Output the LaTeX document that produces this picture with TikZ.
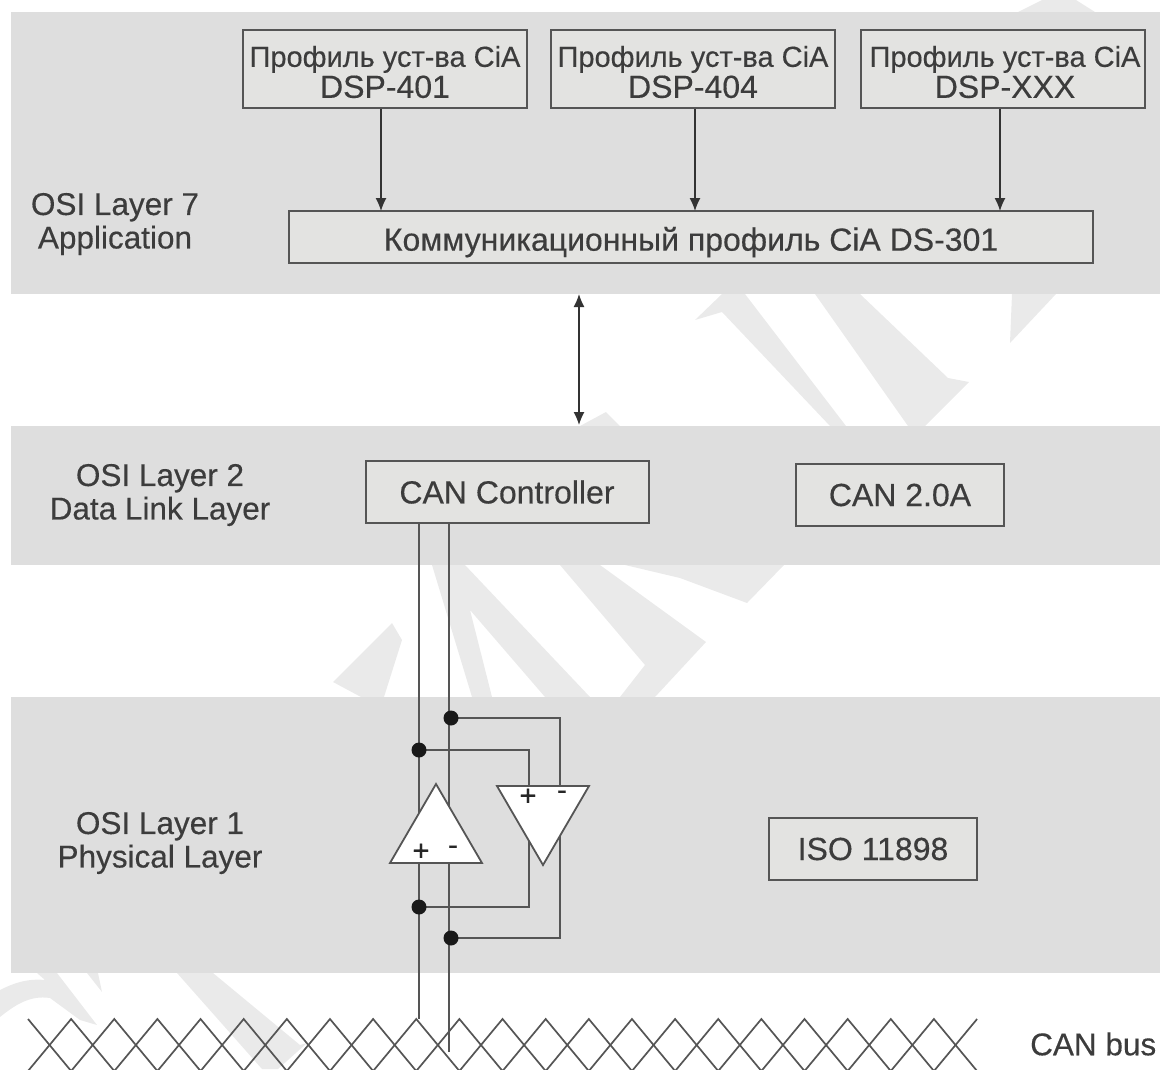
\documentclass[tikz,border=0pt]{standalone}
\usepackage{fontspec}
\setmainfont{Liberation Sans}[FakeBold=0.35]
\usetikzlibrary{arrows.meta}
\definecolor{band}{HTML}{DEDEDE}
\definecolor{boxfill}{HTML}{E3E3E1}
\definecolor{ink}{HTML}{555555}
\definecolor{txt}{HTML}{3C3C3C}
\definecolor{wm}{HTML}{EAEAEA}
\tikzset{
  x=1pt,y=-1pt,
  bandrect/.style={fill=band,draw=none},
  wmark/.style={fill=wm,draw=none},
  wire/.style={draw=ink,line width=2pt},
  buswire/.style={draw=ink,line width=1.7pt,line join=miter},
  boxn/.style={draw=ink,fill=boxfill,line width=2pt,inner sep=0pt,align=center,text=txt},
  lab/.style={align=center,text=txt,font=\fontsize{31.5}{33.5}\selectfont,inner sep=0pt},
  tip/.tip={Latex[length=13pt,width=11pt]},
  arrowline/.style={draw=black!80,line width=1.3pt,-tip},
  dblarrow/.style={draw=black!80,line width=1.3pt,tip-tip},
  dot/.style={circle,fill=black!90,draw=none,minimum size=15pt,inner sep=0pt},
  amp/.style={draw=ink,line width=1.8pt,fill=white,line join=miter},
  sign/.style={inner sep=0pt,text=black!85,font=\fontsize{29}{29}\selectfont}
}
\begin{document}
\begin{tikzpicture}
\useasboundingbox (0,0) rectangle (1160,1069);
% watermark on the white parts
\fill[wmark] (695,320) -- (722,294) -- (745,294) -- (846,426) -- (830,426) -- (722,312) -- cycle;
\fill[wmark] (815,294) -- (860,294) -- (948,378) -- (969,382) -- (925,426) -- (908,426) -- cycle;
\fill[wmark] (1012,294) -- (1056,294) -- (1010,343) -- cycle;
\fill[wmark] (1042,0) -- (1076,0) -- (1095,12) -- (1018,12) -- cycle;
\fill[wmark] (580,426) -- (606,412) -- (620,426) -- cycle;
\fill[wmark] (333,682) -- (392,623) -- (402,640) -- (384,697) -- (361,697) -- cycle;
\fill[wmark] (432,565) -- (465,565) -- (590,697) -- (545,697) -- (470,610) -- (492,697) -- (472,697) -- cycle;
\fill[wmark] (560,565) -- (600,565) -- (706,642) -- (655,697) -- (620,697) -- (645,665) -- cycle;
\fill[wmark] (625,565) -- (784,565) -- (747,603) -- (680,578) -- cycle;
\fill[wmark] (177,973) -- (213,973) -- (300,1045) -- (307,1043) -- (278,1069) -- (262,1069) -- cycle;
\fill[wmark] (37,973) -- (57,973) -- (97,1025) -- (80,1020) -- (50,998) .. controls (30,995) and (15,1005) .. (0,1017) -- (0,990) .. controls (10,985) and (25,978) .. (45,980) -- cycle;
\fill[wmark] (87,973) -- (98,973) -- (102,992) -- cycle;
% bands
\fill[bandrect] (11,12) rectangle (1160,294);
\fill[bandrect] (11,426) rectangle (1160,565);
\fill[bandrect] (11,697) rectangle (1160,973);
% boxes
\node[boxn,minimum width=284pt,minimum height=78pt,font=\fontsize{29}{31}\selectfont] (p1) at (385,69) {\rule{0pt}{27pt}Профиль уст-ва CiA\\{\fontsize{32}{31}\selectfont DSP-401}};
\node[boxn,minimum width=284pt,minimum height=78pt,font=\fontsize{29}{31}\selectfont] (p2) at (693,69) {\rule{0pt}{27pt}Профиль уст-ва CiA\\{\fontsize{32}{31}\selectfont DSP-404}};
\node[boxn,minimum width=284pt,minimum height=78pt,font=\fontsize{29}{31}\selectfont] (p3) at (1003,69) {\rule{0pt}{27pt}\hspace*{4pt}Профиль уст-ва CiA\\\hspace*{4pt}{\fontsize{32}{31}\selectfont DSP-XXX}};
\node[boxn,minimum width=804pt,minimum height=52pt,font=\fontsize{32}{36}\selectfont] (comm) at (691,237) {\rule{0pt}{34pt}Коммуникационный профиль CiA DS-301};
\coordinate (a1) at (381,211);
\coordinate (a2) at (695,211);
\coordinate (a3) at (1000,211);
\draw[arrowline] (p1.south -| a1) -- (a1);
\draw[arrowline] (p2.south -| a2) -- (a2);
\draw[arrowline] (p3.south -| a3) -- (a3);
\node[lab] (l7) at (115,224) {OSI Layer 7\\Application};
\coordinate (u) at (579,294);
\coordinate (d) at (579,425);
\draw[dblarrow] (u) -- (d);
\node[lab] (l2) at (160,495) {OSI Layer 2\\Data Link Layer};
\node[boxn,minimum width=283pt,minimum height=62pt,font=\fontsize{32}{36}\selectfont] (can) at (507,492) {CAN Controller};
\node[boxn,minimum width=208pt,minimum height=62pt,font=\fontsize{32}{36}\selectfont] (can2) at (900,495) {CAN 2.0A};
\node[lab] (l1) at (160,843) {OSI Layer 1\\Physical Layer};
\node[boxn,minimum width=208pt,minimum height=62pt,font=\fontsize{32}{36}\selectfont] (iso) at (873,849) {ISO 11898};
\node[lab,anchor=west] (bus) at (1030,1044) {CAN bus};
% bus
\draw[buswire] (28,1019) \foreach \i in {0,...,10}{ -- ++(21.57,26) -- ++(21.57,26) -- ++(21.57,-26) -- ++(21.57,-26) };
\draw[buswire] (28,1071) \foreach \i in {0,...,10}{ -- ++(21.57,-26) -- ++(21.57,-26) -- ++(21.57,26) -- ++(21.57,26) };
% wires
\coordinate (bl) at (418.5,1019);
\coordinate (br) at (449,1052);
\coordinate (w1) at (418.5,523);
\coordinate (w2) at (449,523);
\coordinate (n1) at (451,718);
\coordinate (n2) at (419,750);
\coordinate (n3) at (419,907);
\coordinate (n4) at (451,938);
\coordinate (c1) at (560,718);
\coordinate (c2) at (529,750);
\coordinate (c3) at (529,907);
\coordinate (c4) at (560,938);
\draw[wire] (can.south -| w1) -- (bl);
\draw[wire] (can.south -| w2) -- (br);
\draw[wire] (n1) -- (c1) -- (c4) -- (n4);
\draw[wire] (n2) -- (c2) -- (c3) -- (n3);
% amplifiers
\draw[amp] (436,784) -- (482,863) -- (390,863) -- cycle;
\draw[amp] (497,786) -- (589,786) -- (543,865) -- cycle;
\node[sign] (s1) at (421,852) {+};
\node[sign] (s2) at (453,850) {-};
\node[sign] (s3) at (528,797) {+};
\node[sign] (s4) at (562,795) {-};
\node[dot] (d1) at (n1) {};
\node[dot] (d2) at (n2) {};
\node[dot] (d3) at (n3) {};
\node[dot] (d4) at (n4) {};
\end{tikzpicture}
\end{document}
